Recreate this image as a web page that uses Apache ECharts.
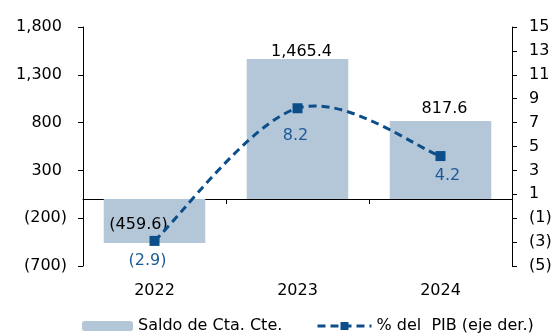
<!DOCTYPE html>
<html>
<head>
<meta charset="utf-8">
<script src="https://cdn.jsdelivr.net/npm/echarts@6/dist/echarts.min.js"></script>
<style>
html,body{margin:0;padding:0;background:#fff;}
#chart{width:553px;height:335px;}
</style>
</head>
<body>
<div id="chart"></div>
<script>
const categories = ['2022', '2023', '2024'];
const saldoCtaCte = [-459.6, 1465.4, 817.6];
const pctPIB = [-2.9, 8.2, 4.2];
const leftTicks = [-700, -200, 300, 800, 1300, 1800];
const rightTicks = [-5, -3, -1, 1, 3, 5, 7, 9, 11, 13, 15];
const seriesNames = ['Saldo de Cta. Cte.', '% del  PIB (eje der.)'];

const FONT = 'DejaVu Sans';
const BAR_COLOR = '#b4c7d9';
const LINE_COLOR = '#0b4e8a';
const LBL_BLUE = '#1c5a96';
const DASH = [8, 5];

function fmtLeft(v) {
  const s = Math.abs(v).toLocaleString('en-US');
  return v < 0 ? '(' + s + ')' : s + ' ';
}
function fmtRight(v) {
  return v < 0 ? '(' + Math.abs(v) + ')' : String(v);
}
function fmt1(v) {
  const s = Math.abs(v).toLocaleString('en-US', {minimumFractionDigits: 1, maximumFractionDigits: 1});
  return v < 0 ? '(' + s + ')' : s;
}

const barData = saldoCtaCte.map(function (v, i) {
  if (v < 0) {
    return {value: v, label: {position: 'inside', offset: [-16, 4]}};
  }
  if (i === 1) return {value: v, label: {offset: [4, 5]}};
  return {value: v};
});
const lineData = pctPIB.map(function (v, i) {
  const item = {value: v};
  if (i === 0) item.label = {offset: [-7, 0]};
  if (i === 1) item.label = {offset: [-2, 8]};
  if (i === 2) item.label = {offset: [7, 0]};
  return item;
});

// Smooth curve (Catmull-Rom style, like spreadsheet smoothing) through points mapped by the axes
function renderSmooth(params, api) {
  if (params.dataIndex !== 0) return null;
  const pts = pctPIB.map(function (v, i) { return api.coord([i, v]); });
  const n = pts.length;
  let d = 'M' + pts[0][0] + ' ' + pts[0][1];
  for (let i = 0; i < n - 1; i++) {
    const p0 = pts[Math.max(i - 1, 0)];
    const p1 = pts[i];
    const p2 = pts[i + 1];
    const p3 = pts[Math.min(i + 2, n - 1)];
    const c1x = p1[0] + (p2[0] - p0[0]) / 6;
    const c1y = p1[1] + (p2[1] - p0[1]) / 6;
    const c2x = p2[0] - (p3[0] - p1[0]) / 6;
    const c2y = p2[1] - (p3[1] - p1[1]) / 6;
    d += ' C' + c1x + ' ' + c1y + ' ' + c2x + ' ' + c2y + ' ' + p2[0] + ' ' + p2[1];
  }
  return {
    type: 'path',
    shape: {pathData: d},
    style: {fill: 'none', stroke: LINE_COLOR, lineWidth: 3, lineDash: DASH},
    silent: true
  };
}

const chart = echarts.init(document.getElementById('chart'), null, {renderer: 'canvas'});
chart.setOption({
  animation: false,
  textStyle: {fontFamily: FONT},
  grid: {left: 83, right: 41, top: 27, bottom: 69, containLabel: false, outerBoundsMode: 'none'},
  legend: [
    {
      data: [seriesNames[0]],
      left: 77, top: 313,
      itemWidth: 51, itemHeight: 10,
      textStyle: {fontFamily: FONT, fontSize: 16, color: '#000'}
    },
    {
      data: [seriesNames[1]],
      left: 311, top: 313,
      itemWidth: 54, itemHeight: 10,
      lineStyle: {color: LINE_COLOR, width: 3, type: DASH, opacity: 1},
      textStyle: {fontFamily: FONT, fontSize: 16, color: '#000'}
    }
  ],
  xAxis: [
    {
      type: 'category',
      data: categories,
      position: 'bottom',
      axisLine: {show: true, onZero: true, lineStyle: {color: '#000', width: 1}},
      axisTick: {show: true, length: 5, lineStyle: {color: '#000'}},
      axisLabel: {show: false},
      splitLine: {show: false}
    },
    {
      type: 'category',
      data: categories,
      position: 'bottom',
      axisLine: {show: false, onZero: false},
      axisTick: {show: false},
      axisLabel: {show: true, margin: 17, fontFamily: FONT, fontSize: 16, color: '#000'},
      splitLine: {show: false}
    }
  ],
  yAxis: [
    {
      type: 'value',
      position: 'left',
      min: -700, max: 1800,
      axisLine: {show: true, lineStyle: {color: '#000'}},
      axisTick: {show: true, length: 5, lineStyle: {color: '#000'}, customValues: leftTicks},
      axisLabel: {show: true, margin: 16, fontFamily: FONT, fontSize: 16, color: '#000',
                  customValues: leftTicks, formatter: fmtLeft},
      splitLine: {show: false}
    },
    {
      type: 'value',
      position: 'right',
      min: -5, max: 15,
      alignTicks: false,
      axisLine: {show: true, lineStyle: {color: '#000'}},
      axisTick: {show: true, length: 5, lineStyle: {color: '#000'}, customValues: rightTicks},
      axisLabel: {show: true, margin: 17, fontFamily: FONT, fontSize: 16, color: '#000',
                  customValues: rightTicks, formatter: fmtRight},
      splitLine: {show: false}
    }
  ],
  series: [
    {
      name: seriesNames[0],
      type: 'bar',
      xAxisIndex: 0,
      yAxisIndex: 0,
      data: barData,
      barCategoryGap: '29%',
      itemStyle: {color: BAR_COLOR},
      label: {
        show: true, position: 'top', distance: 4, offset: [4, 0],
        fontFamily: FONT, fontSize: 16, color: '#000',
        formatter: function (p) { return fmt1(p.value); }
      },
      z: 1
    },
    {
      type: 'custom',
      xAxisIndex: 0,
      yAxisIndex: 1,
      data: pctPIB.map(function (v, i) { return [i, v]; }),
      renderItem: renderSmooth,
      silent: true,
      z: 2
    },
    {
      name: seriesNames[1],
      type: 'line',
      xAxisIndex: 0,
      yAxisIndex: 1,
      data: lineData,
      symbol: 'rect',
      symbolSize: 10,
      itemStyle: {color: LINE_COLOR},
      lineStyle: {color: LINE_COLOR, width: 3, type: DASH, opacity: 0},
      label: {
        show: true, position: 'bottom', distance: 7,
        fontFamily: FONT, fontSize: 16, color: LBL_BLUE,
        formatter: function (p) { return fmt1(p.value); }
      },
      z: 3
    }
  ]
});
</script>
</body>
</html>
